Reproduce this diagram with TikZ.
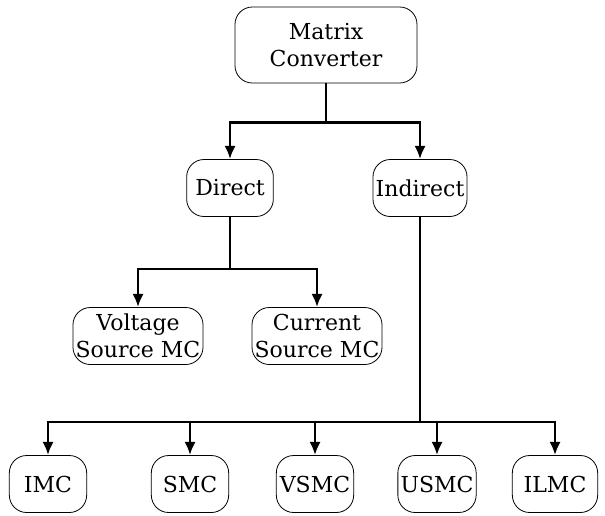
\documentclass[tikz,border=0pt]{standalone}
\usepackage{fontspec}
\setmainfont{DejaVu Serif}
\usepackage{tikz}
\usetikzlibrary{shapes, arrows.meta, positioning}
\tikzstyle{line} = [draw, line width=1.9pt, -{Latex[length=10pt,width=8.5pt]}]
\tikzstyle{block} = [draw, line width=0.6pt, rounded corners=13pt, align=center,
  minimum height=42.75pt, inner xsep=2pt, inner ysep=1pt, font=\fontsize{16.5}{20.5}\selectfont]
\tikzstyle{leaf} = [block, minimum width=58pt]

\begin{document}
\begin{tikzpicture}[x=0.75pt, y=-0.75pt]
		\useasboundingbox (0,0) rectangle (605,515);
		\node[block, minimum width=136.5pt, minimum height=57pt] (MC) at (326,45) {Matrix\\Converter};
		\node[block, minimum width=65pt] (D) at (230,188) {Direct};
		\node[block, minimum width=70.5pt] (I) at (420,188) {Indirect};
		\node[block] (VS) at (138,336) {Voltage\\Source MC};
		\node[block] (CS) at (317,336) {Current\\Source MC};
	%--------------------
		\node[leaf] (IMC) at (48,484) {IMC};
		\node[leaf] (SMC) at (190,484) {SMC};
		\node[leaf] (VSMC) at (315,484) {VSMC};
		\node[leaf] (USMC) at (437,484) {USMC};
		\node[leaf, minimum width=64pt] (ILMC) at (555,484) {ILMC};
	%--------------------
		\draw[line] (MC.south) -- ++(0,39) -| (D.north);
		\draw[line] (MC.south) -- ++(0,39) -| (I.north);
		\draw[line] (D.south) -- ++(0,52) -| (VS.north);
		\draw[line] (D.south) -- ++(0,52) -| (CS.north);
		\foreach \n in {IMC, SMC, VSMC, USMC, ILMC}
			\draw[line] (I.south) -- ++(0,205) -| (\n.north);
	\end{tikzpicture}
\end{document}
